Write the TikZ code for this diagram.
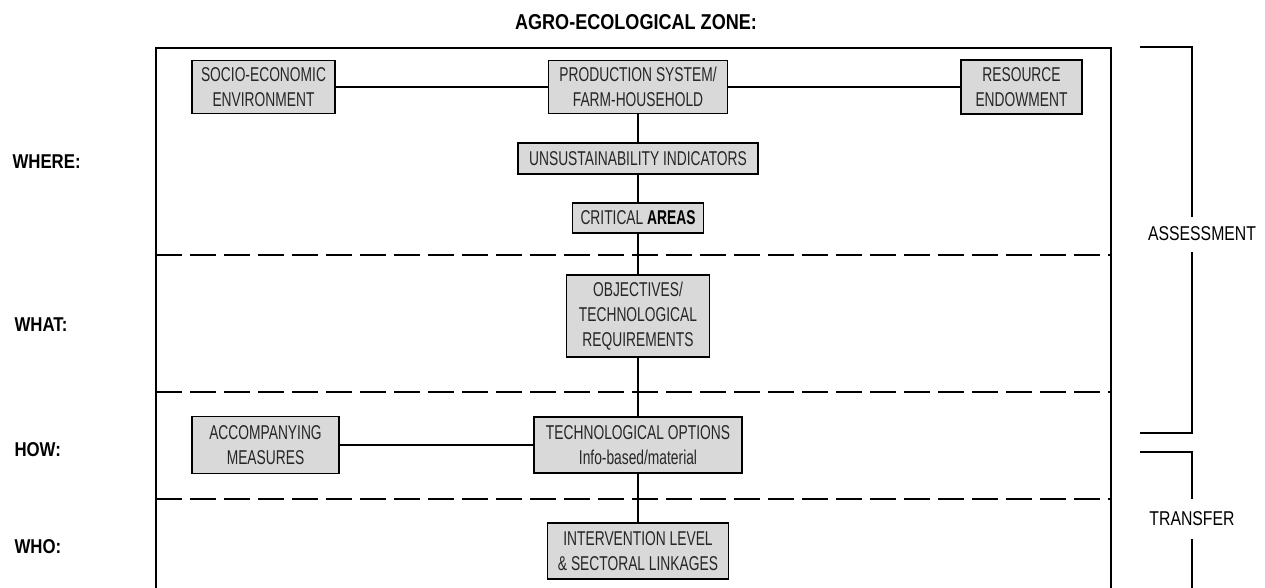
\documentclass[tikz,border=0pt]{standalone}
\usepackage{fontspec}
\setmainfont{Liberation Sans}
\newfontfamily\boxfont{Liberation Sans}[FakeStretch=0.69]
\newfontfamily\headfont{Liberation Sans}[FakeStretch=0.84]
\newfontfamily\sidefont{Liberation Sans}[FakeStretch=0.79]
\usepackage{tikz}

\tikzset{
	box/.style = {draw, line width=1.4pt, fill=black!15, align=center, inner sep=0pt, text=black!85, font=\boxfont\fontsize{20}{25}\selectfont},
	zone/.style = {font=\headfont\bfseries\fontsize{20}{24}\selectfont},
	side/.style = {font=\sidefont\fontsize{20}{24}\selectfont},
	link/.style = {line width=1.3pt},
	layer/.style = {line width=2pt, dash pattern=on 26pt off 8pt}
}

\begin{document}
\begin{tikzpicture}[x=1pt, y=-1pt]
			\useasboundingbox (0,0) rectangle (1265,587);
			%frame and layers
			\draw[line width=2pt] (156,48) rectangle (1111,589);
			\foreach \y in {255,392,499}
				\draw[layer] (156,\y) -- (1111,\y);
			%headings
			\node[zone, font=\headfont\bfseries\fontsize{21.5}{24}\selectfont] (zone) at (636,22) {AGRO-ECOLOGICAL ZONE:};
			\node[zone, anchor=west] (where) at (9,162) {WHERE:};
			\node[zone, anchor=west] (what) at (11,325) {WHAT:};
			\node[zone, anchor=west] (how) at (11,450) {HOW:};
			\node[zone, anchor=west] (who) at (11,547) {WHO:};
			%boxes
			\node[box, minimum width=143pt, minimum height=53pt] (socio) at (263.5,87) {SOCIO-ECONOMIC\\ENVIRONMENT};
			\node[box, minimum width=179pt, minimum height=53pt] (prod) at (638,87) {PRODUCTION SYSTEM/\\FARM-HOUSEHOLD};
			\node[box, minimum width=121pt, minimum height=54pt] (resource) at (1021.5,87) {RESOURCE\\ENDOWMENT};
			\node[box, minimum width=240pt, minimum height=31pt] (unsust) at (638,158.5) {UNSUSTAINABILITY INDICATORS};
			\node[box, minimum width=131pt, minimum height=30pt] (critical) at (638,218) {CRITICAL {\color{black}\bfseries AREAS}};
			\node[box, minimum width=143pt, minimum height=82pt] (objectives) at (638,316) {OBJECTIVES/\\TECHNOLOGICAL\\REQUIREMENTS};
			\node[box, minimum width=208pt, minimum height=56pt] (techopt) at (638,445) {TECHNOLOGICAL OPTIONS\\Info-based/material};
			\node[box, minimum width=147pt, minimum height=57pt] (accomp) at (265.5,445) {ACCOMPANYING\\MEASURES};
			\node[box, minimum width=181pt, minimum height=56pt] (interv) at (638,551) {INTERVENTION LEVEL\\\& SECTORAL LINKAGES};
			%links
			\draw[link] (socio) -- (prod) -- (resource);
			\draw[link] (prod) -- (unsust) -- (critical) -- (objectives) -- (techopt) -- (interv);
			\draw[link] (accomp) -- (techopt);
			%brackets
			\node[side] (assess) at (1202,234) {ASSESSMENT};
			\node[side] (transfer) at (1192,519) {TRANSFER};
			\draw[link] (1140,47) -- (1192,47) -- (1192,217);
			\draw[link] (1192,252) -- (1192,433) -- (1140,433);
			\draw[link] (1140,452) -- (1192,452) -- (1192,499);
			\draw[link] (1192,539) -- (1192,589);
		\end{tikzpicture}
\end{document}
